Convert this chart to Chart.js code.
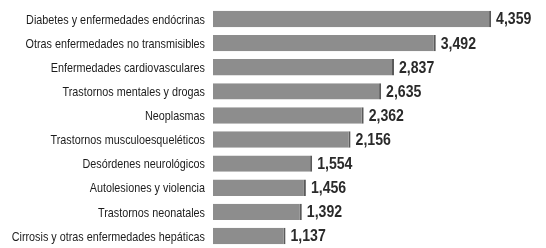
<!DOCTYPE html>
<html>
<head>
<meta charset="utf-8">
<script src="https://cdn.jsdelivr.net/npm/chart.js@4.4.1/dist/chart.umd.min.js"></script>
<style>
  html, body { margin: 0; padding: 0; background: #fff; }
</style>
</head>
<body>
<canvas id="chart-bar" width="546" height="248"></canvas>
<script>
var categories = [
  "Diabetes y enfermedades endócrinas",
  "Otras enfermedades no transmisibles",
  "Enfermedades cardiovasculares",
  "Trastornos mentales y drogas",
  "Neoplasmas",
  "Trastornos musculoesqueléticos",
  "Desórdenes neurológicos",
  "Autolesiones y violencia",
  "Trastornos neonatales",
  "Cirrosis y otras enfermedades hepáticas"
];
var values = [4359, 3492, 2837, 2635, 2362, 2156, 1554, 1456, 1392, 1137];

// draw condensed text (no narrow fonts installed, so squeeze horizontally)
function squeezed(ctx, text, x, y, sx, align){
  ctx.save();
  ctx.translate(x, y);
  ctx.scale(sx, 1);
  ctx.textAlign = align;
  ctx.fillText(text, 0, 0);
  ctx.restore();
}

// category names + value labels
var barText = {
  id: 'barText',
  afterDatasetsDraw: function(chart){
    var ctx = chart.ctx;
    var meta = chart.getDatasetMeta(0);
    var yScale = chart.scales.y;
    ctx.save();
    ctx.textBaseline = 'middle';

    ctx.font = "13.5px 'Liberation Sans', Arial, sans-serif";
    ctx.fillStyle = '#1c1c1c';
    categories.forEach(function(c, i){
      squeezed(ctx, c, yScale.right - 8, yScale.getPixelForTick(i) + 1, 0.8, 'right');
    });

    ctx.font = "bold 16px 'Liberation Sans', Arial, sans-serif";
    ctx.fillStyle = '#2a2a2a';
    meta.data.forEach(function(bar, i){
      squeezed(ctx, values[i].toLocaleString('en-US'), bar.x + 5, bar.y + 1, 0.88, 'left');
    });
    ctx.restore();
  }
};

var ctx = document.getElementById("chart-bar").getContext("2d");
new Chart(ctx, {
  type: "bar",
  data: {
    labels: categories,
    datasets: [{
      data: values,
      backgroundColor: '#8d8d8d',
      borderColor: '#5a5a5a',
      borderWidth: { right: 2, left: 0, top: 0, bottom: 0 },
      borderSkipped: false,
      categoryPercentage: 1,
      barPercentage: 0.68
    }]
  },
  options: {
    indexAxis: 'y',
    responsive: false,
    animation: false,
    layout: { padding: { top: 7, bottom: 0, left: 0, right: 14 } },
    plugins: {
      legend: { display: false },
      tooltip: { enabled: false }
    },
    scales: {
      x: {
        display: false,
        min: 0,
        max: 5000
      },
      y: {
        grid: { display: false, drawTicks: false },
        border: { display: false },
        afterFit: function(scale){ scale.width = 213; },
        ticks: { display: false }
      }
    }
  },
  plugins: [barText]
});
</script>
</body>
</html>
